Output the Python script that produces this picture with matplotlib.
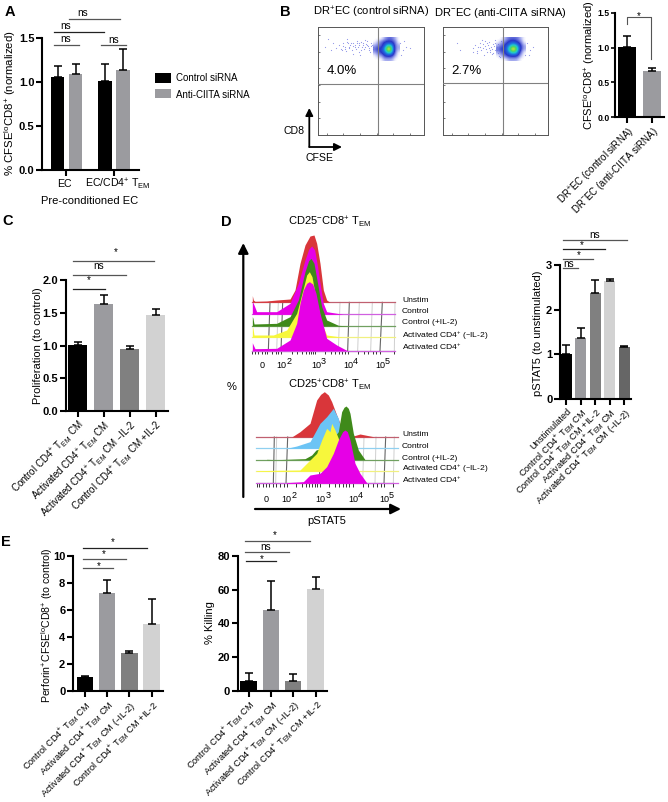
import matplotlib
matplotlib.use("Agg")
import matplotlib.pyplot as plt
from matplotlib.colors import LinearSegmentedColormap
import numpy as np

plt.rcParams['font.family'] = ['Liberation Sans', 'DejaVu Sans']
plt.rcParams['mathtext.default'] = 'regular'

W = 668
H = 802

# colours
BLACK = "#000000"
GR1 = "#9b9b9f"
GR2 = "#808080"
GR3 = "#d2d2d2"
GR4 = "#666666"

TEM = r"T$_{EM}$"
CP = r"CD4$^{+}$"

# panel A
a_values = [1.06, 1.09, 1.01, 1.14]
a_tops = [1.18, 1.21, 1.20, 1.37]
a_ticks = ["EC", "EC/" + CP + " " + TEM]
a_legend = ["Control siRNA", "Anti-CIITA siRNA"]

# panel B bars
b_labels = ["DR$^{+}$EC (control siRNA)", "DR$^{-}$EC (anti-CIITA siRNA)"]
b_values = [1.01, 0.67]
b_tops = [1.16, 0.70]

# panel C
c_labels = ["Control " + CP + " " + TEM + " CM", "Activated " + CP + " " + TEM + " CM",
            "Activated " + CP + " " + TEM + " CM \u2013IL-2", "Control " + CP + " " + TEM + " CM +IL-2"]
c_values = [1.01, 1.64, 0.95, 1.46]
c_tops = [1.05, 1.77, 0.99, 1.55]

# panel D bars
d_labels = ["Unstimulated", "Control " + CP + " " + TEM + " CM", "Control " + CP + " " + TEM + " CM +IL-2",
            "Activated " + CP + " " + TEM + " CM", "Activated " + CP + " " + TEM + " CM (\u2013IL-2)"]
d_values = [1.01, 1.36, 2.38, 2.65, 1.17]
d_tops = [1.21, 1.60, 2.66, 2.69, 1.19]

# panel E
e_labels = ["Control " + CP + " " + TEM + " CM", "Activated " + CP + " " + TEM + " CM",
            "Activated " + CP + " " + TEM + " CM (\u2013IL-2)", "Control " + CP + " " + TEM + " CM +IL-2"]
e1_values = [1.05, 7.25, 2.80, 4.95]
e1_tops = [1.15, 8.25, 3.00, 6.80]
e2_values = [6.0, 48.0, 6.0, 60.5]
e2_tops = [10.5, 65.0, 10.2, 67.5]

# flow plots
f1_x = [75, 85, 92, 100, 108, 118, 125, 130, 136, 142, 150, 155, 160, 166, 172, 178, 184, 190, 196, 202, 208, 214, 218,
        122, 140, 158, 176, 194, 148, 170, 186, 204, 300, 310, 318, 330, 302, 312, 160, 180,
        128, 134, 146, 152, 164, 168, 174, 182, 188, 192, 198, 206, 212, 216, 220, 210, 200, 176, 144, 138]
f1_y = [140, 118, 150, 128, 145, 136, 150, 128, 140, 118, 135, 150, 128, 142, 122, 135, 150, 128, 140, 135, 150, 128, 142,
        148, 126, 138, 156, 120, 145, 130, 142, 138, 130, 150, 140, 145, 165, 122, 162, 165,
        138, 146, 141, 130, 136, 148, 140, 126, 136, 146, 132, 144, 138, 134, 148, 156, 124, 130, 128, 152]
f2_x = [470, 480, 518, 525, 532, 540, 548, 555, 560, 566, 572, 578, 584, 590, 530, 545, 562, 575, 585, 595, 680, 690, 700, 688,
        520, 540, 552, 570, 600, 676, 535, 544, 550, 558, 564, 570, 576, 582, 586, 590, 580, 568, 556, 594, 598, 602]
f2_y = [128, 150, 145, 135, 152, 128, 145, 138, 155, 125, 142, 132, 150, 140, 160, 120, 130, 162, 120, 160, 130, 150, 140, 165,
        155, 140, 165, 150, 170, 165, 142, 150, 132, 148, 136, 156, 146, 138, 128, 150, 158, 144, 124, 132, 168, 122]
dens_x1 = (220, 298)
dens_x2 = (588, 678)
dens_y = (112, 182)
dens1 = [[0, 0, 0, 1, 2, 2, 1, 0],
         [0, 1, 2, 3, 3, 3, 2, 0],
         [1, 2, 2, 4, 7, 6, 2, 1],
         [2, 3, 3, 6, 10, 8, 2, 1],
         [1, 2, 3, 4, 7, 6, 2, 0],
         [0, 1, 1, 3, 3, 3, 1, 0],
         [0, 0, 0, 1, 1, 1, 0, 0]]
dens2 = [[0, 0, 1, 2, 2, 2, 1, 0],
         [0, 1, 2, 3, 4, 3, 2, 0],
         [1, 2, 3, 5, 7, 6, 3, 1],
         [2, 3, 3, 7, 10, 8, 3, 1],
         [1, 2, 3, 5, 7, 6, 2, 0],
         [0, 1, 2, 3, 3, 3, 1, 0],
         [0, 0, 0, 1, 1, 1, 0, 0]]

# histograms top
t_red_x = [127, 130, 135, 170, 200, 240, 255, 270, 285, 300, 312, 320, 330, 340, 350, 360]
t_red_y = [287, 300, 304, 303, 300, 297, 270, 190, 135, 108, 105, 130, 190, 270, 300, 307]
t_mag_x = [127, 130, 140, 200, 240, 265, 285, 296, 305, 314, 322, 330, 340, 350, 400]
t_mag_y = [305, 310, 335, 335, 310, 250, 180, 148, 138, 150, 195, 250, 310, 335, 343]
t_grn_x = [127, 129, 132, 200, 240, 265, 285, 296, 303, 312, 320, 335, 350, 385, 420]
t_grn_y = [350, 355, 372, 370, 350, 300, 215, 182, 175, 190, 235, 320, 360, 376, 378]
t_yel_x = [127, 129, 132, 190, 230, 260, 280, 290, 298, 306, 315, 335, 350, 400]
t_yel_y = [380, 385, 405, 405, 390, 340, 265, 225, 215, 230, 280, 370, 405, 412]
t_mg2_x = [127, 129, 135, 200, 240, 260, 270, 280, 290, 298, 308, 318, 330, 350, 380, 412]
t_mg2_y = [428, 433, 446, 445, 420, 370, 310, 270, 250, 245, 252, 280, 340, 415, 435, 452]

# histograms bottom
b_red_x = [245, 270, 300, 320, 332, 343, 355, 365, 380, 400, 430, 450, 490]
b_red_y = [231, 215, 190, 120, 103, 95, 105, 125, 165, 215, 228, 222, 230]
b_blu_x = [230, 260, 300, 330, 350, 370, 385, 395, 420]
b_blu_y = [265, 258, 245, 190, 170, 145, 175, 215, 265]
b_grn_x = [170, 200, 285, 305, 318, 350, 385, 395, 402, 408, 415, 420, 430, 445, 465]
b_grn_y = [298, 299, 296, 285, 270, 260, 215, 155, 142, 138, 145, 160, 220, 270, 299]
b_yel_x = [140, 270, 290, 320, 335, 350, 360, 365, 375, 385, 400, 440]
b_yel_y = [332, 330, 310, 280, 240, 205, 215, 190, 210, 235, 300, 334]
b_mag_x = [230, 280, 300, 330, 350, 370, 385, 398, 405, 412, 420, 435, 450, 470]
b_mag_y = [368, 365, 345, 340, 320, 280, 240, 215, 210, 215, 240, 310, 340, 368]

hist_names = ["Unstim", "Control", "Control (+IL-2)", "Activated " + CP + " (\u2013IL-2)", "Activated " + CP]
decade_labels = ["2", "3", "4", "5"]

fig = plt.figure(figsize=(W / 100, H / 100), dpi=100)

flow_cmap = LinearSegmentedColormap.from_list(
    "flow", [(0, "#ffffff"), (0.1, "#aab0f0"), (0.28, "#2a38c8"), (0.45, "#1f70e0"), (0.6, "#20c8d0"),
             (0.75, "#50d860"), (0.88, "#e8e030"), (1, "#e02010")])


def pix_axes(left, top, right, bottom):
    return fig.add_axes([left / W, 1 - bottom / H, (right - left) / W, (bottom - top) / H])


def bar_panel(left, top, right, bottom, ymax, yticks, centers, width, values, tops, colors, labels=None, lsize=7):
    ax = pix_axes(left, top, right, bottom)
    ax.set_xlim(left, right)
    ax.set_ylim(0, ymax)
    ax.bar(centers, values, width=width, color=colors)
    for c, v, t in zip(centers, values, tops):
        ax.errorbar([c], [v], yerr=[[0], [t - v]], color="k", lw=1.1, capsize=3.2, capthick=1.1)
    for s in ["top", "right"]:
        ax.spines[s].set_visible(False)
    for s in ["left", "bottom"]:
        ax.spines[s].set_linewidth(1.5)
    ax.set_yticks(yticks)
    ax.tick_params(width=1.5, length=4, labelsize=8, pad=1.5)
    for t in ax.get_yticklabels():
        t.set_fontweight("bold")
    ax.set_xticks(centers)
    if labels:
        ax.set_xticklabels(labels, rotation=45, ha="right", rotation_mode="anchor", fontsize=lsize)
    return ax


# panel A
ax = bar_panel(42, 38, 139, 170.3, 1.5, [0, 0.5, 1.0, 1.5], [57.5, 75.5, 105, 123], 13.5,
               a_values, a_tops, [BLACK, GR1, BLACK, GR1])
ax.set_xticks([66, 114])
ax.set_xticklabels([])

# panel B
ax = bar_panel(615, 12.7, 664, 117.3, 1.5, [0, 0.5, 1.0, 1.5], [627, 652], 17.5,
               b_values, b_tops, [BLACK, GR1], b_labels, lsize=7)
ax.tick_params(axis="y", labelsize=6.2, length=3, width=1.2, pad=1)

# panel C
bar_panel(65.7, 280, 168, 411, 2.0, [0, 0.5, 1.0, 1.5, 2.0], [77.8, 103.8, 129.8, 155.5], 19,
          c_values, c_tops, [BLACK, GR1, GR2, GR3], c_labels, lsize=7)

# panel D
bar_panel(560, 265, 630.7, 399, 3, [0, 1, 2, 3], [566.3, 580.5, 595, 609.5, 624], 11,
          d_values, d_tops, [BLACK, GR1, GR2, GR3, GR4], d_labels, lsize=6.7)

# panel E
bar_panel(73, 556, 162.7, 691.3, 10, [0, 2, 4, 6, 8, 10], [84.8, 107, 129.5, 151.7], 16.5,
          e1_values, e1_tops, [BLACK, GR1, GR2, GR3], e_labels, lsize=6.7)
bar_panel(237.7, 555.7, 326.7, 691, 80, [0, 20, 40, 60, 80], [248.6, 271, 293.2, 315.7], 16.5,
          e2_values, e2_tops, [BLACK, GR1, GR2, GR3], e_labels, lsize=6.7)

# flow plots, axes limits follow the picture coordinates
for rect, xl, vx, hy, fx, fy, dx, dens in [
        ((318.3, 26.7, 424, 135), (55, 372), 235, 252, f1_x, f1_y, dens_x1, dens1),
        ((443.3, 26.7, 548.3, 135), (430, 745), 610, 250, f2_x, f2_y, dens_x2, dens2)]:
    ax = pix_axes(*rect)
    ax.imshow(np.array(dens), extent=(dx[0], dx[1], dens_y[1], dens_y[0]), cmap=flow_cmap, vmin=0, vmax=10,
              interpolation="bicubic", aspect="auto", zorder=1)
    ax.set_xlim(*xl)
    ax.set_ylim(405, 80)
    ax.scatter(fx, fy, s=0.7, color="#6a70e0", linewidths=0, alpha=0.75, zorder=2)
    ax.axvline(vx, color="#808080", lw=0.8, zorder=3)
    ax.axhline(hy, color="#808080", lw=0.8, zorder=3)
    ax.set_xticks(np.arange(xl[0] + 25, xl[1], 50))
    ax.set_yticks(np.arange(105, 400, 50))
    ax.set_xticklabels([])
    ax.set_yticklabels([])
    ax.tick_params(direction="in", length=1.5, width=0.5, color="#444444")
    for s in ax.spines.values():
        s.set_linewidth(0.7)
        s.set_color("#555555")


def histo(rect, xlim, ylim, series, base_right, vlines, lvlines, ruler_y, ruler_x):
    ax = pix_axes(*rect)
    ax.patch.set_alpha(0)
    ax.set_xlim(*xlim)
    ax.set_ylim(*ylim)
    ax.axis("off")
    for bx, tx, y0, y1 in lvlines:
        ax.plot([bx, tx], [y0, y1], color="#cfcfcf", lw=0.7, zorder=1)
    for bx, tx, y0, y1 in vlines:
        ax.plot([bx, tx], [y0, y1], color="#666666", lw=0.8, zorder=1)
    z = 2
    for x, y, base, col, edge, x0 in series:
        ax.plot([x0, base_right], [base, base], color=edge, lw=0.9, zorder=z)
        ax.fill_between(x, y, base, color=col, lw=0, zorder=z)
        z += 1
    ax.plot([ruler_x[0], ruler_x[-1]], [ruler_y, ruler_y], color="#333333", lw=0.8)
    ax.vlines(ruler_x, ruler_y, ruler_y + 10, color="#333333", lw=0.7)


ruler_top = [127, 135, 145, 155, 165, 172, 185, 198, 205, 213, 245, 262, 275, 288, 296, 303, 310, 316, 345, 362, 375, 388,
             396, 404, 413, 445, 462, 475, 488, 497, 510, 553]
histo((210, 200, 480, 370), (0, 810), (510, 0),
      [(t_red_x, t_red_y, 307, "#d9363a", "#c06070", 127),
       (t_mag_x, t_mag_y, 343, "#e600e6", "#d060e0", 127),
       (t_grn_x, t_grn_y, 378, "#3f8a1a", "#70a060", 127),
       (t_yel_x, t_yel_y, 412, "#f7f73c", "#f0f080", 127),
       (t_mg2_x, t_mg2_y, 452, "#e600e6", "#d060e0", 127)],
      555,
      [(175, 180, 452, 307), (213, 218, 452, 307), (315, 318, 452, 307), (413, 418, 452, 307), (510, 517, 452, 307)],
      [(200, 205, 452, 307), (385, 390, 452, 307), (443, 448, 452, 307), (482, 487, 452, 307), (553, 555, 452, 307)],
      452, ruler_top)

ruler_bot = [140, 148, 158, 168, 178, 190, 198, 210, 222, 232, 258, 275, 288, 298, 306, 315, 322, 330, 358, 375, 388, 400,
             408, 418, 428, 458, 475, 490, 500, 512, 522, 550]
histo((210, 360, 480, 530), (0, 810), (510, 0),
      [(b_red_x, b_red_y, 231, "#d9363a", "#c06070", 137),
       (b_blu_x, b_blu_y, 265, "#6cc4f5", "#90d0f0", 137),
       (b_grn_x, b_grn_y, 299, "#3f8a1a", "#70a060", 137),
       (b_yel_x, b_yel_y, 334, "#f7f73c", "#f0f080", 137),
       (b_mag_x, b_mag_y, 370, "#e600e6", "#d060e0", 137)],
      565,
      [(190, 193, 370, 231), (228, 233, 370, 231), (328, 332, 370, 231), (428, 432, 370, 231), (522, 527, 370, 231)],
      [(197, 200, 370, 231), (400, 403, 370, 231), (458, 462, 370, 231), (495, 498, 370, 231), (550, 553, 370, 231)],
      370, ruler_bot)

# everything else sits on one overlay in figure pixels
ov = fig.add_axes([0, 0, 1, 1], zorder=10)
ov.patch.set_alpha(0)
ov.set_xlim(0, W)
ov.set_ylim(H, 0)
ov.axis("off")


def t(x, y, s, size=7.6, **kw):
    kw.setdefault("ha", "center")
    kw.setdefault("va", "center")
    ov.text(x, y, s, fontsize=size, **kw)


def sig(x0, x1, y, tx, ty, s, col="#555555"):
    ov.plot([x0, x1], [y, y], color=col, lw=0.9)
    t(tx, ty, s, size=7.2 if s == "ns" else 7)


def arrow(x0, y0, x1, y1, lw=1.3, ms=11):
    ov.annotate("", xy=(x1, y1), xytext=(x0, y0),
                arrowprops=dict(arrowstyle="-|>", lw=lw, color="k", mutation_scale=ms, shrinkA=0, shrinkB=0))


for x, y, s in [(10, 12, "A"), (285, 12, "B"), (8, 221, "C"), (226, 222, "D"), (6, 542, "E")]:
    t(x, y, s, size=10.5, fontweight="bold")

# A
t(10.5, 103, "% CFSE$^{lo}$CD8$^{+}$ (normalized)", rotation=90, size=8.2)
t(64, 184, a_ticks[0])
t(118, 184, a_ticks[1])
t(90, 201, "Pre-conditioned EC", size=8)
ov.fill_between([155, 171], 73.3, 82.7, color=BLACK, lw=0)
ov.fill_between([155, 171], 89, 98, color=GR1, lw=0)
t(175.7, 77.7, a_legend[0], ha="left", size=7)
t(175.7, 95, a_legend[1], ha="left", size=7)
sig(54, 79.3, 44.7, 65.7, 38.7, "ns")
sig(54, 104, 32.3, 65.7, 26.3, "ns", "#222222")
sig(69.3, 120, 19, 82.3, 12.7, "ns")
sig(100.7, 126, 45.3, 113.3, 40, "ns")

# B
t(371, 12.5, "DR$^{+}$EC (control siRNA)", size=8)
t(500, 12.5, "DR$^{-}$EC (anti-CIITA siRNA)", size=8)
t(342, 71, "4.0%", size=9.5)
t(466, 71, "2.7%", size=9.5)
t(294.5, 130.7, "CD8")
t(320, 158, "CFSE")
arrow(309.3, 147, 309.3, 108)
arrow(309.3, 147, 342, 147)
t(589.5, 65, "CFSE$^{lo}$CD8$^{+}$ (normalized)", rotation=90, size=8)
ov.plot([626.7, 626.7, 651, 651], [24, 17.3, 17.3, 59], color="#555555", lw=0.8)
t(639, 16, "*", size=7)

# C
t(38, 346, "Proliferation (to control)", rotation=90, size=8)
sig(73, 105, 289.3, 89, 280.5, "*", "#222222")
sig(73, 126, 275, 99, 266, "ns")
sig(73, 154, 261, 116, 252.5, "*")

# D histograms
t(330, 222, "CD25$^{-}$CD8$^{+}$ " + TEM, size=8)
t(330, 385, "CD25$^{+}$CD8$^{+}$ " + TEM, size=8)
for y, s in zip([300, 311.3, 323, 335.5, 346.5], hist_names):
    t(402, y, s, ha="left", size=6.1)
for y, s in zip([435, 446.7, 458.3, 468.7, 479.5], hist_names):
    t(402, y, s, ha="left", size=6.1)
t(261.7, 366, "0", size=6.5)
t(266, 500, "0", size=6.5)
for x, s in zip([281.7, 316, 348, 380], decade_labels):
    t(x, 366, "10", size=6.5)
    t(x + 7, 362, s, size=6.5)
for x, s in zip([286.7, 320.7, 353, 384], decade_labels):
    t(x, 500, "10", size=6.5)
    t(x + 7, 496, s, size=6.5)
arrow(243.3, 497, 243.3, 243, lw=1.6, ms=15)
arrow(255, 509, 401, 509, lw=1.6, ms=15)
t(327, 521, "pSTAT5", size=8)
t(231.7, 387, "%", size=8)

# D bars
t(538, 333, "pSTAT5 (to unstimulated)", rotation=90, size=8)
sig(563, 578, 268, 569, 264, "ns")
sig(562.7, 592.7, 258.7, 579, 255, "*")
sig(562.7, 605, 249.3, 582, 245, "*", "#222222")
sig(562.7, 626.7, 239.7, 595, 235, "ns")

# E
t(47.5, 625, "Perforin$^{+}$CFSE$^{lo}$CD8$^{+}$ (to control)", rotation=90)
sig(82.7, 113.3, 568.3, 99, 566, "*")
sig(82.7, 126, 559, 103.7, 554, "*")
sig(82.7, 147.3, 548, 112.3, 542, "*", "#222222")
t(210, 623, "% Killing", rotation=90, size=8)
sig(245.7, 276, 561, 262, 559, "*", "#222222")
sig(245, 288.7, 551.7, 266, 547, "ns")
sig(245.3, 310, 541, 275, 535, "*")

fig.savefig("out.png", dpi=100)
